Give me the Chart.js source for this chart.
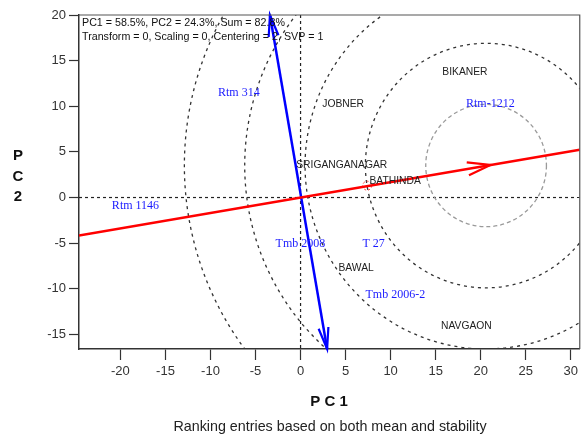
<!DOCTYPE html>
<html>
<head>
<meta charset="utf-8">
<script src="https://cdn.jsdelivr.net/npm/chart.js@4"></script>
<style>
html,body{margin:0;padding:0;background:#fff;}
#wrap{width:582px;height:437px;}
</style>
</head>
<body>
<div id="wrap"><canvas id="c" width="582" height="437"></canvas></div>
<script>
// ---- axis ranges & ticks ----
const xMin = -24.6, xMax = 31.0, yMin = -16.6, yMax = 20;
const tickStep = 5;

// ---- header / captions ----
const headerLines = ['PC1 = 58.5%, PC2 = 24.3%, Sum = 82.8%', 'Transform = 0, Scaling = 0, Centering = 2, SVP = 1'];
const xTitle = 'P C 1';
const yTitleLetters = ['P', 'C', '2'];
const caption = 'Ranking entries based on both mean and stability';

// ---- environments (black labels) ----
const envNames = ['BIKANER', 'JOBNER', 'SRIGANGANAGAR', 'BATHINDA', 'BAWAL', 'NAVGAON'];
const envPC1 = [15.74, 2.41, -0.48, 7.65, 4.21, 15.6];
const envPC2 = [13.78, 10.27, 3.59, 1.75, -7.71, -14.07];

// ---- genotypes (blue labels) ----
const genNames = ['Rtm 314', 'Rtm-1212', 'Rtm 1146', 'Tmb 2008', 'T 27', 'Tmb 2006-2'];
const genPC1 = [-9.17, 18.37, -20.95, -2.77, 6.87, 7.21];
const genPC2 = [11.45, 10.27, -0.88, -5.08, -5.08, -10.67];

// ---- lines ----
const aecX = [-24.6, 31.0];   // red axis through origin
const aecY = [-4.16, 5.24];
const atcX = [-3.4, 2.95];    // blue perpendicular axis
const atcY = [20.0, -16.6];
const idealX = 21.1, idealY = 3.57;     // red arrow tip
const meanEnvX = 7.4, meanEnvY = 1.3;   // small red circle

// ---- concentric circles ----
const circleCX = 20.6, circleCY = 3.5;
const circleRadii = [6.7, 13.4, 20.1, 26.8, 33.5];

const FONT_SANS = 'Arial, "Liberation Sans", sans-serif';
const FONT_SERIF = '"Times New Roman", "Liberation Serif", serif';

function arrowHead(ctx, tx, ty, fx, fy, len, angDeg) {
  const a = Math.atan2(ty - fy, tx - fx);
  const d = angDeg * Math.PI / 180;
  ctx.beginPath();
  ctx.moveTo(tx - len * Math.cos(a - d), ty - len * Math.sin(a - d));
  ctx.lineTo(tx, ty);
  ctx.lineTo(tx - len * Math.cos(a + d), ty - len * Math.sin(a + d));
  ctx.stroke();
}

const biplotPlugin = {
  id: 'biplot',
  beforeDatasetsDraw(chart) {
    const {ctx, chartArea: ca, scales: {x, y}} = chart;
    ctx.save();
    ctx.beginPath();
    ctx.rect(ca.left, ca.top, ca.right - ca.left, ca.bottom - ca.top);
    ctx.clip();
    // crosshair
    ctx.strokeStyle = '#222';
    ctx.lineWidth = 1.2;
    ctx.setLineDash([3, 3]);
    const x0 = x.getPixelForValue(0), y0 = y.getPixelForValue(0);
    ctx.beginPath(); ctx.moveTo(ca.left, y0); ctx.lineTo(ca.right, y0); ctx.stroke();
    ctx.beginPath(); ctx.moveTo(x0, ca.top); ctx.lineTo(x0, ca.bottom); ctx.stroke();
    // circles
    const cx = x.getPixelForValue(circleCX), cy = y.getPixelForValue(circleCY);
    circleRadii.forEach((r, i) => {
      const rx = Math.abs(x.getPixelForValue(circleCX + r) - cx);
      const ry = Math.abs(y.getPixelForValue(circleCY + r) - cy);
      ctx.strokeStyle = i === 0 ? '#9a9a9a' : '#333';
      ctx.lineWidth = 1.3;
      ctx.setLineDash(i === 0 ? [4, 3] : [3, 4]);
      ctx.beginPath();
      ctx.ellipse(cx, cy, rx, ry, 0, 0, Math.PI * 2);
      ctx.stroke();
    });
    // mean env small circle
    ctx.strokeStyle = '#ff3030';
    ctx.lineWidth = 1;
    ctx.setLineDash([2, 2]);
    ctx.beginPath();
    ctx.arc(x.getPixelForValue(meanEnvX), y.getPixelForValue(meanEnvY), 4.5, 0, Math.PI * 2);
    ctx.stroke();
    ctx.restore();
  },
  afterDatasetsDraw(chart) {
    const {ctx, scales: {x, y}} = chart;
    ctx.save();
    ctx.setLineDash([]);
    // red arrow
    ctx.strokeStyle = '#ff0000';
    ctx.lineWidth = 2.2;
    arrowHead(ctx, x.getPixelForValue(idealX), y.getPixelForValue(idealY),
      x.getPixelForValue(0), y.getPixelForValue(0), 24, 16);
    // blue arrows
    ctx.strokeStyle = '#0000ff';
    ctx.lineWidth = 2.2;
    const b0x = x.getPixelForValue(atcX[0]), b0y = y.getPixelForValue(atcY[0]);
    const b1x = x.getPixelForValue(atcX[1]), b1y = y.getPixelForValue(atcY[1]);
    arrowHead(ctx, b0x, b0y, b1x, b1y, 22, 13);
    arrowHead(ctx, b1x, b1y, b0x, b0y, 22, 13);
    // env labels
    ctx.textAlign = 'left';
    ctx.textBaseline = 'middle';
    ctx.fillStyle = '#222';
    ctx.font = '10.3px ' + FONT_SANS;
    envNames.forEach((n, i) => ctx.fillText(n, x.getPixelForValue(envPC1[i]), y.getPixelForValue(envPC2[i])));
    // genotype labels
    ctx.fillStyle = '#1a1aff';
    ctx.font = '12px ' + FONT_SERIF;
    genNames.forEach((n, i) => ctx.fillText(n, x.getPixelForValue(genPC1[i]), y.getPixelForValue(genPC2[i])));
    ctx.restore();
  },
  afterDraw(chart) {
    const {ctx, chartArea: ca} = chart;
    ctx.save();
    // top and right border
    ctx.strokeStyle = '#555';
    ctx.lineWidth = 1.2;
    ctx.beginPath();
    ctx.moveTo(ca.left, ca.top); ctx.lineTo(ca.right, ca.top); ctx.lineTo(ca.right, ca.bottom);
    ctx.stroke();
    // header
    ctx.fillStyle = '#111';
    ctx.font = '10.7px ' + FONT_SANS;
    ctx.textAlign = 'left';
    ctx.textBaseline = 'middle';
    ctx.fillText(headerLines[0], ca.left + 3, 23);
    ctx.fillText(headerLines[1], ca.left + 3, 37);
    // axis titles
    ctx.fillStyle = '#111';
    ctx.font = 'bold 15px ' + FONT_SANS;
    ctx.textAlign = 'center';
    ctx.fillText(xTitle, 329, 402);
    [156, 177, 197].forEach((yy, i) => ctx.fillText(yTitleLetters[i], 18, yy));
    // caption
    ctx.font = '14.3px ' + FONT_SANS;
    ctx.fillStyle = '#222';
    ctx.fillText(caption, 330, 427);
    ctx.restore();
  }
};

new Chart(document.getElementById('c'), {
  type: 'scatter',
  data: {
    datasets: [
      {
        data: aecX.map((v, i) => ({x: v, y: aecY[i]})),
        showLine: true, borderColor: '#ff0000', borderWidth: 2.5, pointRadius: 0
      },
      {
        data: atcX.map((v, i) => ({x: v, y: atcY[i]})),
        showLine: true, borderColor: '#0000ff', borderWidth: 2.5, pointRadius: 0
      }
    ]
  },
  options: {
    responsive: false,
    animation: false,
    devicePixelRatio: 1,
    layout: {padding: {left: 0, right: 1, top: 15, bottom: 0}},
    plugins: {legend: {display: false}, tooltip: {enabled: false}, title: {display: false}},
    scales: {
      x: {
        type: 'linear', min: xMin, max: xMax,
        afterFit(s) { s.height = 88; },
        ticks: {stepSize: tickStep, includeBounds: false, color: '#333', font: {size: 13, family: FONT_SANS}, padding: 4, maxRotation: 0},
        grid: {drawOnChartArea: false, drawTicks: true, tickLength: 11, tickColor: '#333', tickWidth: 1.2},
        border: {display: true, color: '#333', width: 1.5}
      },
      y: {
        type: 'linear', min: yMin, max: yMax,
        afterFit(s) { s.width = 79; },
        ticks: {stepSize: tickStep, includeBounds: false, color: '#333', font: {size: 13, family: FONT_SANS}, padding: 3},
        grid: {drawOnChartArea: false, drawTicks: true, tickLength: 10, tickColor: '#333', tickWidth: 1.2},
        border: {display: true, color: '#333', width: 1.5}
      }
    }
  },
  plugins: [biplotPlugin]
});
</script>
</body>
</html>
